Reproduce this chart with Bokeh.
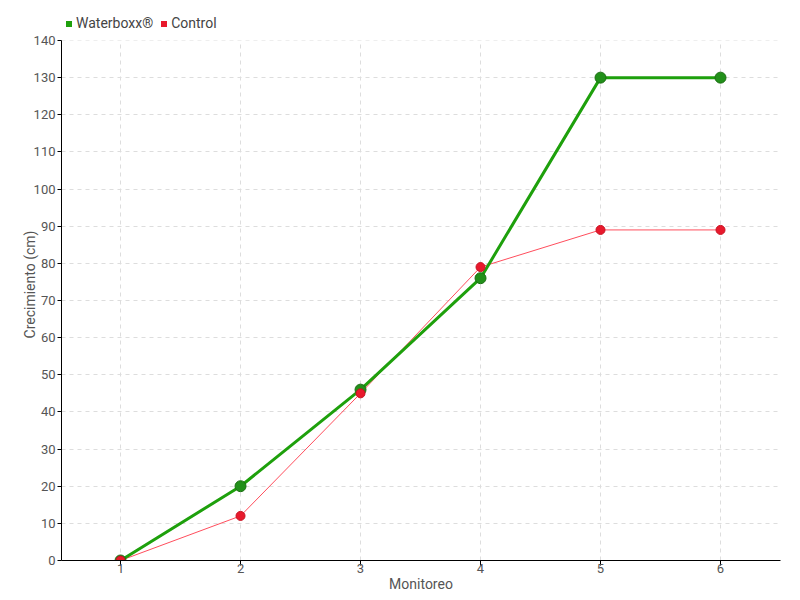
from bokeh.plotting import figure
from bokeh.models import ColumnDataSource, FixedTicker, Legend, LegendItem, Range1d, BoxAnnotation
from bokeh.embed import file_html
from bokeh.resources import INLINE

monitoreo = [1, 2, 3, 4, 5, 6]
waterboxx = [0, 20, 46, 76, 130, 130]
control = [0, 12, 45, 79, 89, 89]
y_ticks = list(range(0, 141, 10))

FONT = "Roboto"
GREEN = "#1ea00c"
GREEN_DOT = "#22901a"
RED = "#e8192c"

y_top = y_ticks[-1]
y_extra = y_top * 32 / 520  # room above the axis for the legend

p = figure(width=800, height=600, output_backend="svg", toolbar_location=None,
           x_range=Range1d(0.508, 6.5), y_range=Range1d(0, y_top + y_extra),
           min_border_left=61, min_border_right=20, min_border_top=8, min_border_bottom=40)
p.outline_line_color = None

p.xgrid.grid_line_color = "#dddddd"
p.ygrid.grid_line_color = "#dddddd"
p.xgrid.grid_line_dash = "4 4"
p.ygrid.grid_line_dash = "4 4"

mask = BoxAnnotation(bottom=y_top, fill_color="white", fill_alpha=1, line_color=None, level="underlay")
p.add_layout(mask)

src_w = ColumnDataSource(dict(x=monitoreo, y=waterboxx))
src_c = ColumnDataSource(dict(x=monitoreo, y=control))

p.line("x", "y", source=src_c, line_color="#ff3a4a", line_width=1, line_alpha=0.9)
p.line("x", "y", source=src_w, line_color=GREEN, line_width=3)
p.scatter("x", "y", source=src_w, size=11, fill_color=GREEN_DOT, line_color="#1b6e12", line_width=1)
p.scatter("x", "y", source=src_c, size=9, fill_color=RED, line_color="#c81020")

sq_w = p.scatter("x", "y", source=src_w, marker="square", fill_color=GREEN, line_color=None, visible=False)
sq_c = p.scatter("x", "y", source=src_c, marker="square", fill_color=RED, line_color=None, visible=False)

legend = Legend(items=[LegendItem(label="Waterboxx®", renderers=[sq_w]),
                       LegendItem(label="Control", renderers=[sq_c])],
                orientation="horizontal", location=(0, 529),
                glyph_width=15, glyph_height=15, label_standoff=0, spacing=3,
                padding=0, margin=0, border_line_color=None, background_fill_alpha=0,
                label_text_font=FONT, label_text_font_size="14px", label_text_color="#444444")
p.add_layout(legend)

for ax in (p.xaxis, p.yaxis):
    ax.axis_line_color = "black"
    ax.major_tick_line_color = "black"
    ax.minor_tick_line_color = None
    ax.major_tick_in = 0
    ax.major_label_text_font = FONT
    ax.major_label_text_font_size = "13px"
    ax.major_label_text_color = "#555555"
    ax.axis_label_text_font = FONT
    ax.axis_label_text_font_size = "14px"
    ax.axis_label_text_color = "#555555"
    ax.axis_label_text_font_style = "normal"

p.yaxis.bounds = (y_ticks[0], y_top)
p.xaxis.ticker = FixedTicker(ticks=monitoreo)
p.yaxis.ticker = FixedTicker(ticks=y_ticks)
p.xaxis.major_tick_out = 5
p.yaxis.major_tick_out = 4
p.xaxis.axis_label = "Monitoreo"
p.yaxis.axis_label = "Crecimiento (cm)"
p.xaxis.axis_label_standoff = 0
p.yaxis.axis_label_standoff = -7
p.xaxis.major_label_standoff = -2
p.yaxis.major_label_standoff = 2

open("out.html", "w").write(file_html(p, INLINE))
